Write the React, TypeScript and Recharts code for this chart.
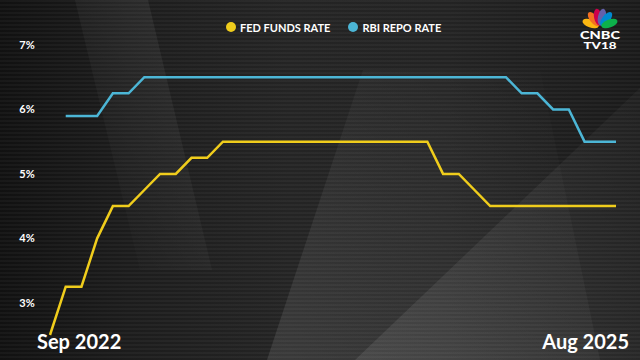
import React from 'react';
import { LineChart, Line, XAxis, YAxis } from 'recharts';

// month-start points: 1 Sep 2022 ... 1 Sep 2025 (i.e. end of Aug 2025)
const MONTHS = [
  '2022-09', '2022-10', '2022-11', '2022-12',
  '2023-01', '2023-02', '2023-03', '2023-04', '2023-05', '2023-06',
  '2023-07', '2023-08', '2023-09', '2023-10', '2023-11', '2023-12',
  '2024-01', '2024-02', '2024-03', '2024-04', '2024-05', '2024-06',
  '2024-07', '2024-08', '2024-09', '2024-10', '2024-11', '2024-12',
  '2025-01', '2025-02', '2025-03', '2025-04', '2025-05', '2025-06',
  '2025-07', '2025-08', '2025-09',
];

const FED_FUNDS = [
  2.5, 3.25, 3.25, 4.0,
  4.5, 4.5, 4.75, 5.0, 5.0, 5.25,
  5.25, 5.5, 5.5, 5.5, 5.5, 5.5,
  5.5, 5.5, 5.5, 5.5, 5.5, 5.5,
  5.5, 5.5, 5.5, 5.0, 5.0, 4.75,
  4.5, 4.5, 4.5, 4.5, 4.5, 4.5,
  4.5, 4.5, 4.5,
];

const RBI_REPO = [
  null, 5.9, 5.9, 5.9,
  6.25, 6.25, 6.5, 6.5, 6.5, 6.5,
  6.5, 6.5, 6.5, 6.5, 6.5, 6.5,
  6.5, 6.5, 6.5, 6.5, 6.5, 6.5,
  6.5, 6.5, 6.5, 6.5, 6.5, 6.5,
  6.5, 6.5, 6.25, 6.25, 6.0, 6.0,
  5.5, 5.5, 5.5,
];

const Y_TICKS = [3, 4, 5, 6, 7];
const X_TICK_LABELS = ['Sep 2022', 'Aug 2025'];

const SERIES = [
  { key: 'fed', name: 'FED FUNDS RATE', color: '#f0cd1c' },
  { key: 'rbi', name: 'RBI REPO RATE', color: '#4cb6d6' },
];

const data = MONTHS.map((m, i) => ({ month: m, fed: FED_FUNDS[i], rbi: RBI_REPO[i] }));

const FONT = 'Lato, "Open Sans", sans-serif';

const YTick = ({ y, payload }: any) => (
  <text x={27} y={y} dy={4} textAnchor="middle" fill="#fff" fontSize={11} fontWeight={700} fontFamily={FONT}>
    {payload.value}%
  </text>
);

const XTick = ({ x, payload }: any) => {
  const first = payload.value === MONTHS[0];
  return (
    <text
      x={first ? x - 13 : x + 13}
      y={349}
      textAnchor={first ? 'start' : 'end'}
      fill="#fff"
      fontSize={20}
      fontWeight={700}
      fontFamily={FONT}
    >
      {first ? X_TICK_LABELS[0] : X_TICK_LABELS[1]}
    </text>
  );
};

const LegendBar = () => (
  <div
    style={{
      position: 'absolute',
      left: 226,
      top: 20,
      height: 14,
      display: 'flex',
      alignItems: 'center',
      fontFamily: FONT,
      fontWeight: 700,
      fontSize: 11,
      color: '#fff',
      whiteSpace: 'nowrap',
    }}
  >
    {SERIES.map((s, i) => (
      <div key={s.key} style={{ display: 'flex', alignItems: 'center', marginLeft: i ? 18 : 0 }}>
        <span style={{ width: 10, height: 10, borderRadius: 5, background: s.color, marginRight: 4 }} />
        <span>{s.name}</span>
      </div>
    ))}
  </div>
);

const Backdrop = () => (
  <svg width={640} height={360} style={{ position: 'absolute', left: 0, top: 0 }}>
    <defs>
      <linearGradient id="wedgeA" x1="1" y1="0" x2="0.2" y2="1">
        <stop offset="0%" stopColor="#fff" stopOpacity={0.08} />
        <stop offset="100%" stopColor="#fff" stopOpacity={0} />
      </linearGradient>
      <linearGradient id="panelB" x1="0" y1="1" x2="1" y2="0">
        <stop offset="0%" stopColor="#fff" stopOpacity={0.1} />
        <stop offset="55%" stopColor="#fff" stopOpacity={0.04} />
        <stop offset="100%" stopColor="#fff" stopOpacity={0} />
      </linearGradient>
      <linearGradient id="panelC" x1="0" y1="1" x2="1" y2="0">
        <stop offset="0%" stopColor="#fff" stopOpacity={0.09} />
        <stop offset="100%" stopColor="#fff" stopOpacity={0.03} />
      </linearGradient>
    </defs>
    <polygon points="75,0 148,0 212,270 140,270" fill="url(#wedgeA)" />
    <polygon points="363,70 540,70 600,360 267,360" fill="url(#panelB)" />
    <polygon points="640,88 640,360 355,360" fill="url(#panelC)" />
  </svg>
);

const Logo = () => {
  const colors = ['#fcb711', '#f37021', '#cc004c', '#6460aa', '#0089d0', '#0db14b'];
  const angles = [-160, -128, -101, -79, -52, -20];
  return (
    <svg width={640} height={360} style={{ position: 'absolute', left: 0, top: 0 }}>
      {colors.map((c, i) => (
        <ellipse
          key={c}
          cx={0}
          cy={0}
          rx={8.5}
          ry={4}
          fill={c}
          transform={`translate(600 27) rotate(${angles[i]}) translate(10 0)`}
        />
      ))}
      <text x={600} y={38.5} textAnchor="middle" fill="#fff" fontSize={11} fontWeight={900} fontFamily={FONT}
        textLength={40} lengthAdjust="spacingAndGlyphs">CNBC</text>
      <text x={600} y={48.5} textAnchor="middle" fill="#fff" fontSize={9} fontWeight={900} fontFamily={FONT}
        textLength={33} lengthAdjust="spacingAndGlyphs">TV18</text>
    </svg>
  );
};

export default function App() {
  return (
    <div
      style={{
        position: 'absolute',
        left: 0,
        top: 0,
        width: 640,
        height: 360,
        overflow: 'hidden',
        background:
          'repeating-linear-gradient(to bottom, rgba(255,255,255,0.035) 0px, rgba(255,255,255,0.035) 2px, rgba(0,0,0,0) 2px, rgba(0,0,0,0) 4px), linear-gradient(to right, #111 0%, #1c1c1c 20%, #242424 45%, #232323 70%, #1a1a1a 100%)',
      }}
    >
      <Backdrop />
      <div style={{ position: 'absolute', left: 0, top: 0 }}>
        <LineChart width={640} height={360} data={data} margin={{ top: 45, right: 24, bottom: 0, left: 0 }}>
          <XAxis
            dataKey="month"
            interval={35}
            axisLine={false}
            tickLine={false}
            height={25}
            tick={<XTick />}
          />
          <YAxis
            domain={[2.5, 7]}
            ticks={Y_TICKS}
            width={50}
            axisLine={false}
            tickLine={false}
            tick={<YTick />}
          />
          {SERIES.map((s) => (
            <Line
              key={s.key}
              type="linear"
              dataKey={s.key}
              name={s.name}
              stroke={s.color}
              strokeWidth={2.5}
              dot={false}
              activeDot={false}
              isAnimationActive={false}
            />
          ))}
        </LineChart>
      </div>
      <LegendBar />
      <Logo />
    </div>
  );
}
